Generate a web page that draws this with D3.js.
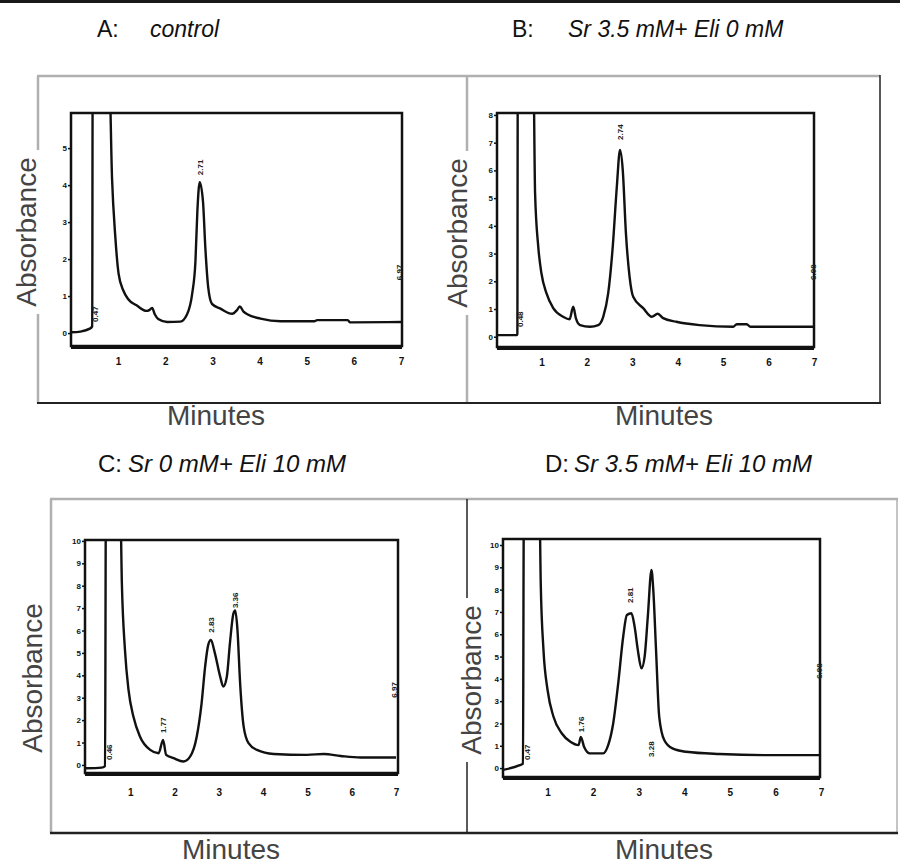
<!DOCTYPE html>
<html>
<head>
<meta charset="utf-8">
<script src="https://cdnjs.cloudflare.com/ajax/libs/d3/7.8.5/d3.min.js"></script>
<style>
body { margin: 0; background: #fff; }
svg { display: block; }
.title { font-family: "Liberation Sans", Arial, sans-serif; fill: #111; }
.big { font-family: "Liberation Sans", Arial, sans-serif; font-size: 28px; fill: #444; }
.axis text { font-family: "Liberation Sans", Arial, sans-serif; font-weight: bold; fill: #111; }
.rt { font-family: "Liberation Sans", Arial, sans-serif; font-size: 8px; font-weight: bold; fill: #222; }
</style>
</head>
<body>
<div id="chart"></div>
<script>
// panel letters and sample titles
var panelNames = ["A:", "B:", "C:", "D:"];
var panelTitles = ["control", "Sr 3.5 mM+ Eli 0 mM", "Sr 0 mM+ Eli 10 mM", "Sr 3.5 mM+ Eli 10 mM"];

// tick labels
var xTicks = [1, 2, 3, 4, 5, 6, 7];
var yTicksA = [0, 1, 2, 3, 4, 5];
var yTicksB = [0, 1, 2, 3, 4, 5, 6, 7, 8];
var yTicksC = [0, 1, 2, 3, 4, 5, 6, 7, 8, 9, 10];
var yTicksD = [0, 1, 2, 3, 4, 5, 6, 7, 8, 9, 10];

// traces: [minutes, absorbance]
var traceA = [[0.00,0.02],[0.20,0.04],[0.40,0.12],[0.45,0.18],[0.46,7.0],[0.81,7.0],[0.87,4.2],[0.94,2.6],
  [1.01,1.6],[1.11,1.15],[1.21,0.92],[1.39,0.75],[1.60,0.6],[1.66,0.62],[1.72,0.68],[1.78,0.5],[1.85,0.38],
  [2.04,0.3],[2.32,0.31],[2.46,0.5],[2.57,1.06],[2.64,1.95],[2.68,3.28],[2.73,4.08],[2.80,3.55],[2.85,2.3],
  [2.91,1.24],[2.99,0.79],[3.17,0.66],[3.42,0.52],[3.52,0.62],[3.58,0.72],[3.66,0.58],[3.75,0.5],[4.02,0.39],
  [4.45,0.32],[5.16,0.32],[5.22,0.35],[5.87,0.35],[5.92,0.29],[7.0,0.3]];
var traceB = [[0.00,0.06],[0.46,0.06],[0.47,0.1],[0.48,10],[0.82,10],[0.86,5.2],[0.93,3.25],[1.0,2.29],
  [1.11,1.57],[1.26,1.03],[1.48,0.72],[1.62,0.63],[1.70,1.08],[1.76,0.66],[1.85,0.42],[2.07,0.36],[2.25,0.42],
  [2.36,0.72],[2.47,1.57],[2.57,3.25],[2.66,5.42],[2.73,6.74],[2.79,6.02],[2.86,3.73],[2.94,2.17],[3.02,1.44],
  [3.24,1.03],[3.43,0.72],[3.56,0.83],[3.68,0.67],[3.97,0.54],[4.48,0.42],[5.22,0.36],[5.3,0.45],[5.52,0.45],
  [5.6,0.36],[7.0,0.36]];
var traceC = [[0.0,-0.15],[0.35,-0.12],[0.43,-0.05],[0.45,12],[0.77,12],[0.81,8.1],[0.88,5.13],[0.96,3.35],
  [1.07,2.16],[1.22,1.26],[1.45,0.67],[1.64,0.52],[1.74,1.12],[1.81,0.45],[1.98,0.3],[2.2,0.15],[2.35,0.37],
  [2.5,1.26],[2.61,2.75],[2.69,4.39],[2.76,5.36],[2.82,5.58],[2.91,4.99],[3.03,3.94],[3.10,3.5],[3.18,3.94],
  [3.25,5.43],[3.33,6.77],[3.37,6.89],[3.42,6.03],[3.48,3.65],[3.56,1.71],[3.67,0.97],[3.86,0.67],[4.24,0.49],
  [4.99,0.45],[5.37,0.49],[5.75,0.4],[6.2,0.33],[7.0,0.33]];
var traceD = [[0.0,-0.09],[0.39,0.13],[0.46,0.2],[0.48,12],[0.82,12],[0.85,8.3],[0.91,5.3],[1.0,3.5],
  [1.13,2.3],[1.31,1.56],[1.5,1.18],[1.68,1.03],[1.73,1.4],[1.8,0.96],[1.93,0.66],[2.22,0.66],[2.33,1.03],
  [2.44,2.0],[2.55,3.8],[2.66,5.9],[2.74,6.86],[2.84,6.94],[2.91,6.34],[2.98,5.3],[3.06,4.47],[3.13,5.0],
  [3.2,6.8],[3.28,8.88],[3.32,7.98],[3.38,5.3],[3.45,2.3],[3.56,1.26],[3.74,0.88],[4.04,0.73],[4.77,0.63],
  [5.87,0.58],[7.0,0.58]];

// retention time labels: [minutes, absorbance at label foot, text]
var peaksA = [[0.50,0.3,"0.47"],[2.73,4.27,"2.71"],[6.96,1.43,"6.97"]];
var peaksB = [[0.53,0.35,"0.48"],[2.73,7.1,"2.74"],[6.97,2.05,"6.98"]];
var peaksC = [[0.52,0.22,"0.46"],[1.74,1.43,"1.77"],[2.82,5.9,"2.83"],[3.37,7.0,"3.36"],[6.96,3.0,"6.97"]];
var peaksD = [[0.55,0.36,"0.47"],[1.73,1.61,"1.76"],[2.80,7.4,"2.81"],[3.28,0.5,"3.28"],[6.95,4.0,"6.98"]];

var traces = [traceA, traceB, traceC, traceD];
var peaks = [peaksA, peaksB, peaksC, peaksD];
var yTicks = [yTicksA, yTicksB, yTicksC, yTicksD];

// layout of each panel (pixels)
var layout = [
  {box: [71, 113, 402, 346], xr: [71, 401], yd: [-0.35, 5.95], letter: [97, 37], text: 150, fs: 23, tickY: 16,
   absX: 36, absY: 232, minX: 216, minY: 425},
  {box: [497, 113, 814, 347], xr: [496, 814], yd: [-0.37, 8.07], letter: [512, 37], text: 568, fs: 23, tickY: 16,
   absX: 467, absY: 233, minX: 664, minY: 425},
  {box: [85, 540, 398, 773], xr: [86, 396], yd: [-0.36, 10.04], letter: [98, 472], text: 128, fs: 24, tickY: 20,
   absX: 42, absY: 678, minX: 231, minY: 859},
  {box: [503, 539, 820, 777], xr: [502, 821], yd: [-0.4, 10.27], letter: [545, 472], text: 574, fs: 24, tickY: 16,
   absX: 481, absY: 680, minX: 664, minY: 859}
];

var width = 900, height = 867;

var svg = d3.select("#chart").append("svg")
  .attr("width", width)
  .attr("height", height);

// black strip on top
svg.append("rect").attr("x", 0).attr("y", 0).attr("width", width).attr("height", 3).attr("fill", "#1a1a1a");

// outer frames
var grey = "#b0b0b0", dark = "#222";
function seg(x1, y1, x2, y2, col, w) {
  svg.append("line").attr("x1", x1).attr("y1", y1).attr("x2", x2).attr("y2", y2)
    .attr("stroke", col).attr("stroke-width", w);
}
seg(37, 76, 880, 76, grey, 2.5);
seg(38, 76, 38, 403, grey, 2.5);
seg(467, 76, 467, 403, grey, 2.5);
seg(880, 75, 880, 404, dark, 1.5);
seg(37, 403, 881, 403, dark, 2);

seg(50, 499, 898, 499, grey, 2.5);
seg(51, 499, 51, 833, grey, 2.5);
seg(467, 499, 467, 833, dark, 1.5);
seg(897, 499, 897, 833, grey, 1.5);
seg(50, 833, 898, 833, dark, 2.5);

layout.forEach(function(L, i) {
  var x = d3.scaleLinear().domain([0, 7]).range(L.xr);
  var y = d3.scaleLinear().domain(L.yd).range([L.box[3], L.box[1]]);

  // titles
  var t = svg.append("text").attr("class", "title").attr("y", L.letter[1]).style("font-size", L.fs + "px");
  t.append("tspan").attr("x", L.letter[0]).text(panelNames[i]);
  t.append("tspan").attr("x", L.text).style("font-style", "italic").text(panelTitles[i]);

  // axis labels, with white behind so the frame line breaks
  svg.append("rect").attr("x", L.absX - 27).attr("y", L.absY - 82).attr("width", 33).attr("height", 164)
    .attr("fill", "#fff");
  svg.append("text").attr("class", "big")
    .attr("transform", "translate(" + L.absX + "," + L.absY + ") rotate(-90)")
    .attr("text-anchor", "middle").text("Absorbance");
  svg.append("text").attr("class", "big").attr("x", L.minX).attr("y", L.minY)
    .attr("text-anchor", "middle").text("Minutes");

  // clip the trace to the plot box
  var clipId = "clip" + i;
  svg.append("clipPath").attr("id", clipId).append("rect")
    .attr("x", L.box[0]).attr("y", L.box[1])
    .attr("width", L.box[2] - L.box[0]).attr("height", L.box[3] - L.box[1]);

  var line = d3.line()
    .x(function(d) { return x(d[0]); })
    .y(function(d) { return y(d[1]); })
    .curve(d3.curveMonotoneX);

  svg.append("path").datum(traces[i])
    .attr("clip-path", "url(#" + clipId + ")")
    .attr("fill", "none").attr("stroke", "#111").attr("stroke-width", 2.4)
    .attr("stroke-linejoin", "round")
    .attr("d", line);

  // plot box
  svg.append("rect").attr("x", L.box[0]).attr("y", L.box[1])
    .attr("width", L.box[2] - L.box[0]).attr("height", L.box[3] - L.box[1])
    .attr("fill", "none").attr("stroke", "#111").attr("stroke-width", 2.5);
  seg(L.box[0], L.box[3] + 1, L.box[2], L.box[3] + 1, "#111", 4);

  // axes
  svg.append("g").attr("class", "axis")
    .attr("transform", "translate(0," + L.box[3] + ")")
    .call(d3.axisBottom(x).tickValues(xTicks).tickSize(0).tickPadding(L.tickY - 4).tickFormat(d3.format("d")))
    .call(function(g) { g.select(".domain").remove(); })
    .selectAll("text").attr("font-size", 10);

  svg.append("g").attr("class", "axis")
    .attr("transform", "translate(" + L.box[0] + ",0)")
    .call(d3.axisLeft(y).tickValues(yTicks[i]).tickSize(3).tickPadding(1).tickFormat(d3.format("d")))
    .call(function(g) { g.select(".domain").remove(); })
    .call(function(g) { g.selectAll("line").attr("stroke", "#111").attr("stroke-width", 1.5); })
    .selectAll("text").attr("font-size", 8);

  // retention time labels
  svg.selectAll(".rt" + i).data(peaks[i]).enter().append("text")
    .attr("class", "rt")
    .attr("transform", function(d) { return "translate(" + (x(d[0]) + 3) + "," + y(d[1]) + ") rotate(-90)"; })
    .text(function(d) { return d[2]; });
});
</script>
</body>
</html>
